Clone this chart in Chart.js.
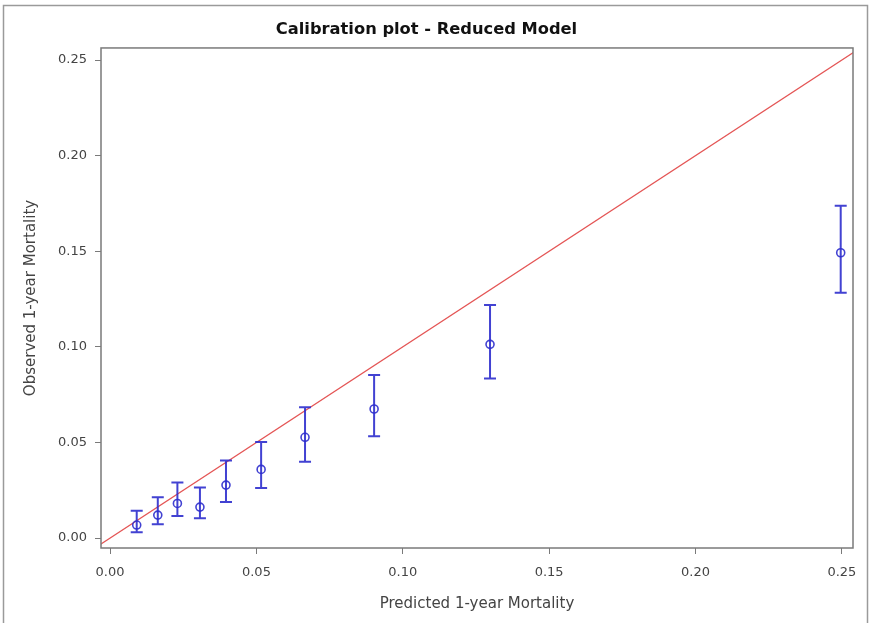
<!DOCTYPE html>
<html>
<head>
<meta charset="utf-8">
<script src="https://cdn.jsdelivr.net/npm/chart.js@4.4.1/dist/chart.umd.min.js"></script>
<style>
  html, body { margin: 0; padding: 0; background: #fff; }
  canvas { display: block; }
</style>
</head>
<body>
<canvas id="calChart" width="871" height="623"></canvas>
<script>
// calibration groups
const predicted = [0.0091, 0.0163, 0.0230, 0.0307, 0.0396, 0.0516, 0.0666, 0.0902, 0.1298, 0.2496];
const observed  = [0.0068, 0.0120, 0.0181, 0.0162, 0.0277, 0.0359, 0.0527, 0.0675, 0.1013, 0.1492];
const lowerCI   = [0.0031, 0.0072, 0.0115, 0.0103, 0.0188, 0.0262, 0.0399, 0.0533, 0.0835, 0.1283];
const upperCI   = [0.0143, 0.0213, 0.0291, 0.0265, 0.0406, 0.0502, 0.0684, 0.0853, 0.1219, 0.1738];
const refLine   = [-0.01, 0.27];
const tickVals  = [0, 0.05, 0.10, 0.15, 0.20, 0.25];

const blue = 'rgba(45,45,205,0.9)';
const axisGrey = '#7a7a7a';
const textGrey = '#444';
const fontFam = '"DejaVu Sans", Arial, sans-serif';

// outer border + plot frame
const framePlugin = {
  id: 'frame',
  beforeDraw(chart) {
    const ctx = chart.ctx;
    ctx.save();
    ctx.strokeStyle = '#9a9a9a';
    ctx.lineWidth = 1.5;
    ctx.beginPath();
    ctx.moveTo(3.5, 640);
    ctx.lineTo(3.5, 5.5);
    ctx.lineTo(867.5, 5.5);
    ctx.lineTo(867.5, 640);
    ctx.stroke();
    ctx.restore();
  },
  afterDraw(chart) {
    const a = chart.chartArea;
    const ctx = chart.ctx;
    ctx.save();
    ctx.strokeStyle = axisGrey;
    ctx.lineWidth = 1.5;
    ctx.strokeRect(a.left, a.top, a.right - a.left, a.bottom - a.top);
    ctx.restore();
  }
};

// 95% CI whiskers
const errorBars = {
  id: 'errorBars',
  afterDatasetsDraw(chart) {
    const x = chart.scales.x, y = chart.scales.y, ctx = chart.ctx;
    ctx.save();
    ctx.strokeStyle = blue;
    ctx.lineWidth = 2;
    predicted.forEach((p, i) => {
      const px = x.getPixelForValue(p);
      const top = y.getPixelForValue(upperCI[i]);
      const bot = y.getPixelForValue(lowerCI[i]);
      ctx.beginPath();
      ctx.moveTo(px, top); ctx.lineTo(px, bot);
      ctx.moveTo(px - 6, top); ctx.lineTo(px + 6, top);
      ctx.moveTo(px - 6, bot); ctx.lineTo(px + 6, bot);
      ctx.stroke();
    });
    ctx.restore();
  }
};

const ctx = document.getElementById('calChart').getContext('2d');
new Chart(ctx, {
  type: 'scatter',
  data: {
    datasets: [{
      type: 'line',
      data: refLine.map(v => ({ x: v, y: v })),
      borderColor: 'rgb(228,85,85)',
      borderWidth: 1.1,
      pointRadius: 0,
      fill: false,
      order: 2
    }, {
      data: predicted.map((p, i) => ({ x: p, y: observed[i] })),
      pointStyle: 'circle',
      pointRadius: 4,
      borderColor: blue,
      borderWidth: 1.6,
      backgroundColor: 'rgba(0,0,0,0)',
      order: 1
    }]
  },
  options: {
    responsive: false,
    animation: false,
    layout: { padding: { left: 0, right: 18, top: 0, bottom: 0 } },
    plugins: {
      legend: { display: false },
      tooltip: { enabled: false },
      title: {
        display: true,
        text: 'Calibration plot - Reduced Model',
        color: '#111',
        font: { family: fontFam, size: 16.3, weight: 'bold' },
        padding: { top: 20, bottom: 8.4 }
      }
    },
    scales: {
      x: {
        type: 'linear',
        min: -0.0031,
        max: 0.2538,
        afterBuildTicks: s => { s.ticks = tickVals.map(v => ({ value: v })); },
        afterFit: s => { s.height = 75; },
        grid: { drawOnChartArea: false, drawTicks: true, tickLength: 6, color: axisGrey },
        border: { display: false },
        ticks: {
          padding: 11,
          color: textGrey,
          font: { family: fontFam, size: 13 },
          callback: v => v.toFixed(2)
        },
        title: {
          display: true,
          text: 'Predicted 1-year Mortality',
          color: textGrey,
          font: { family: fontFam, size: 15 },
          padding: { top: 0, bottom: 10 }
        }
      },
      y: {
        type: 'linear',
        min: -0.0052,
        max: 0.2563,
        afterBuildTicks: s => { s.ticks = tickVals.map(v => ({ value: v })); },
        afterFit: s => { s.width = 101; },
        grid: { drawOnChartArea: false, drawTicks: true, tickLength: 6, color: axisGrey },
        border: { display: false },
        ticks: {
          padding: 8,
          color: textGrey,
          font: { family: fontFam, size: 13 },
          callback: v => v.toFixed(2)
        },
        title: {
          display: true,
          text: 'Observed 1-year Mortality',
          color: textGrey,
          font: { family: fontFam, size: 15 },
          padding: { top: 22, bottom: 0 }
        }
      }
    }
  },
  plugins: [framePlugin, errorBars]
});
</script>
</body>
</html>
